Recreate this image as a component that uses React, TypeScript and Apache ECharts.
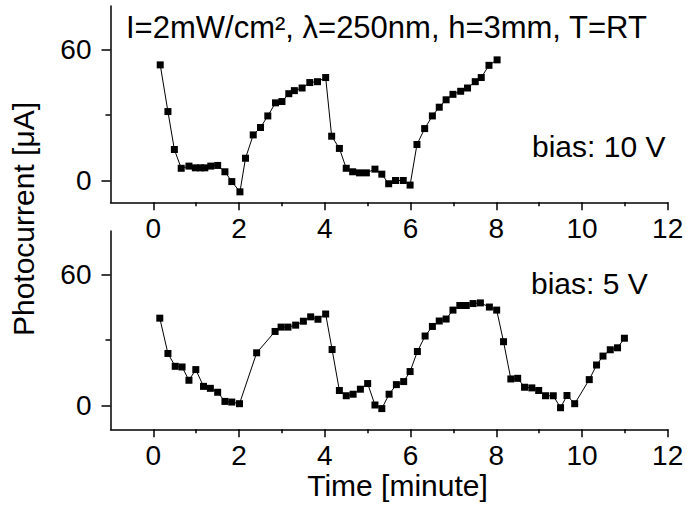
import React, { useEffect, useRef } from "react";
import * as echarts from "echarts";

// Top panel (bias 10 V)
const time10 = [0.16, 0.34, 0.49, 0.65, 0.83, 0.98, 1.1, 1.2, 1.34, 1.5, 1.67, 1.83, 2.02, 2.15, 2.33, 2.5, 2.67, 2.85, 3.0, 3.16, 3.29, 3.47, 3.65, 3.83, 4.02, 4.16, 4.34, 4.5, 4.65, 4.81, 4.97, 5.17, 5.33, 5.49, 5.65, 5.83, 5.99, 6.15, 6.33, 6.51, 6.67, 6.83, 6.99, 7.17, 7.33, 7.51, 7.65, 7.83, 8.02];
const current10 = [53.0, 31.6, 14.2, 5.6, 6.6, 5.8, 5.8, 5.8, 6.6, 6.9, 4.0, -0.5, -5.2, 10.2, 20.9, 24.3, 29.6, 35.6, 36.2, 39.8, 41.2, 42.4, 44.9, 45.3, 47.2, 20.3, 14.7, 5.6, 4.0, 3.5, 3.5, 5.2, 2.9, -1.5, 0, 0, -2.1, 16.5, 23.8, 29.6, 33.6, 37.0, 39.5, 40.9, 42.4, 45.3, 47.2, 52.8, 55.3];

// Bottom panel (bias 5 V)
const time5 = [0.15, 0.34, 0.51, 0.67, 0.83, 0.99, 1.17, 1.33, 1.5, 1.67, 1.83, 2.01, 2.41, 2.84, 2.98, 3.14, 3.32, 3.5, 3.67, 3.84, 4.02, 4.17, 4.34, 4.5, 4.66, 4.83, 5.0, 5.17, 5.33, 5.5, 5.67, 5.84, 5.99, 6.16, 6.34, 6.51, 6.67, 6.83, 6.99, 7.15, 7.3, 7.46, 7.63, 7.84, 8.01, 8.17, 8.34, 8.5, 8.66, 8.83, 8.99, 9.15, 9.33, 9.5, 9.65, 9.83, 10.17, 10.34, 10.49, 10.66, 10.83, 10.99];
const current5 = [40.0, 23.8, 17.9, 17.6, 11.5, 16.4, 8.7, 7.8, 6.0, 1.8, 1.5, 0.75, 24.1, 33.9, 35.9, 35.9, 36.8, 38.6, 40.6, 39.5, 41.9, 25.6, 6.8, 4.4, 5.1, 7.4, 10.0, 0.15, -1.5, 5.1, 9.5, 10.9, 15.5, 24.7, 31.8, 36.2, 38.7, 39.6, 43.7, 45.8, 45.8, 46.7, 47.0, 45.1, 43.7, 29.2, 12.1, 12.4, 8.3, 8.0, 6.8, 4.4, 4.4, -1.1, 4.5, 0.75, 11.8, 18.5, 22.6, 25.5, 26.4, 30.8];

const xMajor = [0, 2, 4, 6, 8, 10, 12];
const xMinor = [1, 3, 5, 7, 9, 11];
const yMajor = [0, 60];
const yMinor = [30];

const titleText = "I=2mW/cm², λ=250nm, h=3mm, T=RT";
const bias10Text = "bias: 10 V";
const bias5Text = "bias: 5 V";
const xName = "Time [minute]";
const yName = "Photocurrent [μA]";

const FONT = "'Liberation Sans', Arial, sans-serif";

export default function App() {
  const ref = useRef<HTMLDivElement>(null);
  useEffect(() => {
    if (!ref.current) return;
    const chart = echarts.init(ref.current, null, { renderer: "svg" });
    const axisLineStyle = { color: "#000", width: 1.5 };
    const mainX = (gi: number) => ({
      type: "value",
      gridIndex: gi,
      min: -1,
      max: 12,
      position: "bottom",
      axisLine: { show: true, onZero: false, lineStyle: axisLineStyle },
      axisTick: { show: true, customValues: xMajor, length: 8, lineStyle: axisLineStyle },
      axisLabel: { customValues: xMajor, margin: 12, fontSize: 28, color: "#000", fontFamily: FONT },
      splitLine: { show: false },
    });
    const minorX = (gi: number) => ({
      type: "value",
      gridIndex: gi,
      min: -1,
      max: 12,
      position: "bottom",
      axisLine: { show: false, onZero: false },
      axisTick: { show: true, customValues: xMinor, length: 4, lineStyle: axisLineStyle },
      axisLabel: { show: false },
      splitLine: { show: false },
    });
    const mainY = (gi: number, min: number, max: number) => ({
      type: "value",
      gridIndex: gi,
      min,
      max,
      position: "left",
      axisLine: { show: true, onZero: false, lineStyle: axisLineStyle },
      axisTick: { show: true, customValues: yMajor, length: 9, lineStyle: axisLineStyle },
      axisLabel: { customValues: yMajor, margin: 19, fontSize: 28, color: "#000", fontFamily: FONT },
      splitLine: { show: false },
    });
    const minorY = (gi: number, min: number, max: number) => ({
      type: "value",
      gridIndex: gi,
      min,
      max,
      position: "left",
      axisLine: { show: false, onZero: false },
      axisTick: { show: true, customValues: yMinor, length: 5, lineStyle: axisLineStyle },
      axisLabel: { show: false },
      splitLine: { show: false },
    });
    const seriesStyle = {
      type: "line",
      symbol: "rect",
      symbolSize: 7,
      itemStyle: { color: "#000" },
      lineStyle: { color: "#000", width: 1 },
      silent: true,
    };
    chart.setOption({
      animation: false,
      backgroundColor: "#fff",
      grid: [
        { left: 110.5, right: 32.3, top: 6, height: 196.3, outerBoundsMode: "none" },
        { left: 110.5, right: 32.3, top: 231, height: 198.3, outerBoundsMode: "none" },
      ],
      xAxis: [mainX(0), minorX(0), mainX(1), minorX(1)],
      yAxis: [mainY(0, -10, 80), minorY(0, -10, 80), mainY(1, -11, 80), minorY(1, -11, 80)],
      series: [
        { ...seriesStyle, xAxisIndex: 0, yAxisIndex: 0, data: time10.map((t, i) => [t, current10[i]]) },
        { ...seriesStyle, xAxisIndex: 2, yAxisIndex: 2, data: time5.map((t, i) => [t, current5[i]]) },
      ],
      graphic: [
        { type: "text", left: 126, top: 12, style: { text: titleText, fontSize: 31, fontFamily: FONT, fill: "#000" } },
        { type: "text", x: 532, y: 146.3, style: { text: bias10Text, fontSize: 30, fontFamily: FONT, fill: "#000", align: "left", verticalAlign: "middle" } },
        { type: "text", x: 531, y: 283.6, style: { text: bias5Text, fontSize: 30, fontFamily: FONT, fill: "#000", align: "left", verticalAlign: "middle" } },
        { type: "text", x: 397.5, y: 485, style: { text: xName, fontSize: 30, fontFamily: FONT, fill: "#000", align: "center", verticalAlign: "middle" } },
        { type: "text", x: 23, y: 219, rotation: Math.PI / 2, style: { text: yName, fontSize: 30, fontFamily: FONT, fill: "#000", align: "center", verticalAlign: "middle" } },
      ],
    });
    return () => chart.dispose();
  }, []);
  return <div ref={ref} style={{ position: "absolute", left: 0, top: 0, width: 700, height: 517 }} />;
}
